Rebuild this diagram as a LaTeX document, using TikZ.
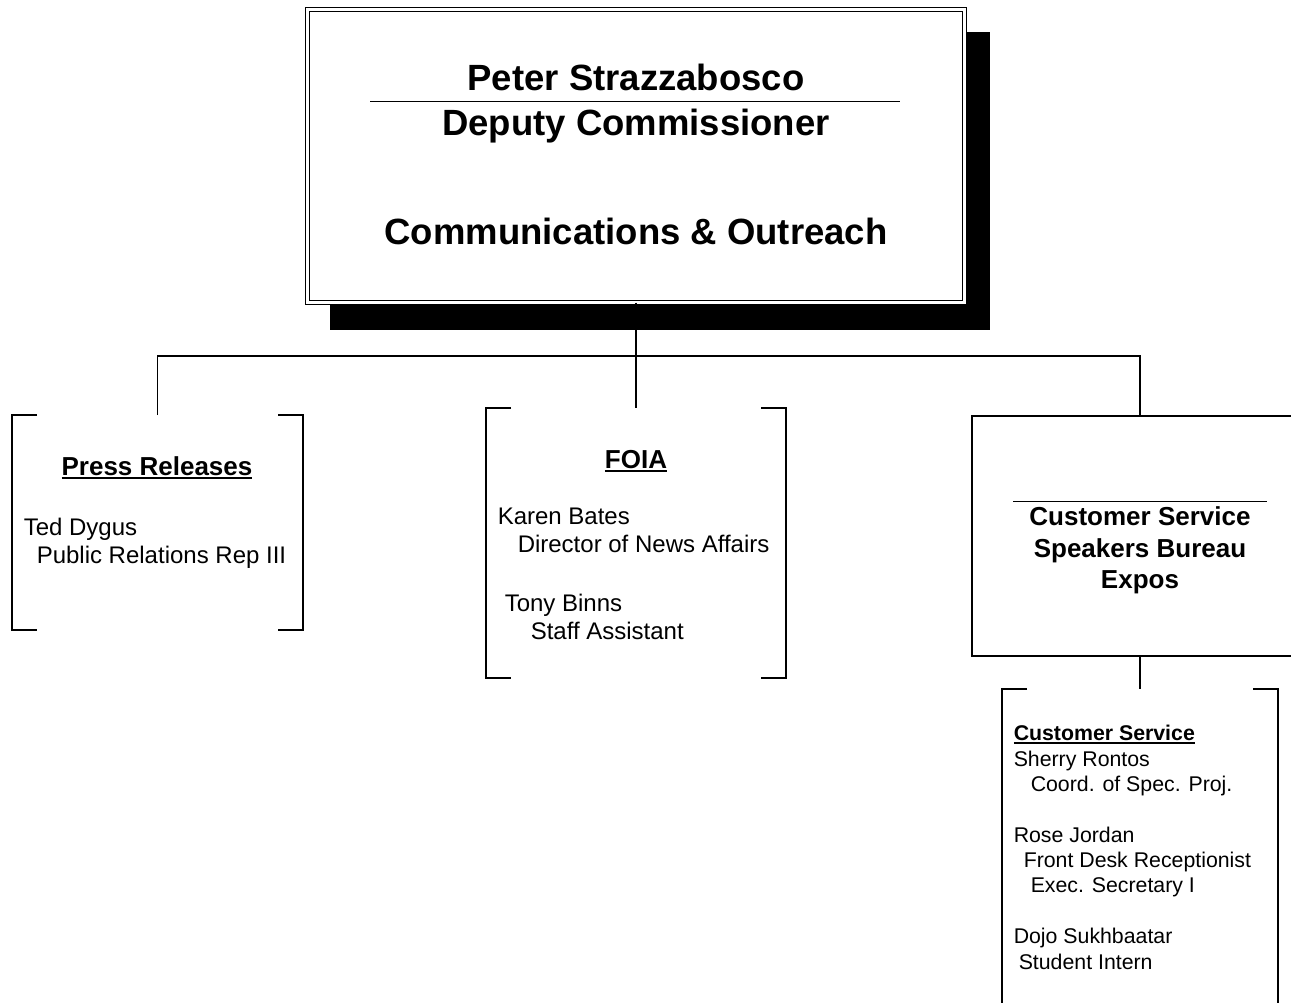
\documentclass[tikz,border=0pt]{standalone}
\usepackage{fontspec}
\setmainfont{Liberation Sans}
\usetikzlibrary{positioning}

\newcommand{\ulbox}[2]{\begingroup\setbox0\hbox{#2}\leavevmode\rlap{\rule[-3.5pt]{\wd0}{#1}}\box0\endgroup}

\tikzset{
 headbox/.style={draw, double, double distance=2.5pt, line width=1.2pt, fill=white, minimum width=657pt, minimum height=293pt, inner sep=0pt, outer sep=0pt},
 shadebox/.style={fill=black, minimum width=660pt, minimum height=298pt, inner sep=0pt, outer sep=0pt},
 unitbox/.style={draw, line width=1.6pt, inner sep=0pt, outer sep=0pt},
 bracketbox/.style={inner sep=0pt, outer sep=0pt},
 headtext/.style={anchor=base, inner sep=0pt, font=\fontsize{36.5}{40}\selectfont\bfseries},
 titletext/.style={anchor=base, inner sep=0pt, font=\fontsize{26}{30}\selectfont\bfseries},
 bodytext/.style={anchor=base west, inner sep=0pt, font=\fontsize{24}{28}\selectfont},
 smalltext/.style={anchor=base west, inner sep=0pt, font=\fontsize{21.3}{25}\selectfont},
}

\begin{document}
\begin{tikzpicture}[x=1pt,y=-1pt,line width=1.5pt]
 \useasboundingbox (0,0) rectangle (1291,1003);
 \clip (0,0) rectangle (1291,1003);

 % head box
 \node[shadebox] (shade) at (660,181) {};
 \node[headbox] (head) at (636,156) {};
 \node[headtext] (name) at (636,91) {Peter Strazzabosco};
 \node[headtext] (post) at (636,136) {Deputy Commissioner};
 \node[headtext] (unit) at (636,245) {Communications \& Outreach};
 \coordinate (r0) at (370,102);
 \coordinate (r1) at (900,102);
 \draw[line width=1pt] (r0) -- (r1);

 % units
 \node[bracketbox, minimum width=291pt, minimum height=215pt] (pr) at (157.5,522.5) {};
 \node[bracketbox, minimum width=300pt, minimum height=270pt] (foia) at (636,543) {};
 \node[unitbox, minimum width=336pt, minimum height=240pt] (cs) at (1140,536) {};
 \node[bracketbox, minimum width=276pt, minimum height=340pt] (desk) at (1140,859) {};

 % brackets
 \foreach \b in {pr,foia,desk} {
  \draw (\b.north west) ++(25,0) -| (\b.south west) -- ++(25,0);
  \draw (\b.north east) ++(-25,0) -| (\b.south east) -- ++(-25,0);
 }

 % connectors
 \coordinate (bus) at (636,356);
 \draw (head.south) -- (foia.north);
 \draw (pr.north) |- (bus) -| (cs.north);
 \draw (cs.south) -- (desk.north);

 % press releases
 \node[titletext] (prtitle) at (157,475) {\ulbox{1.8pt}{Press Releases}};
 \node[bodytext] (prname) at (23,535) {Ted Dygus};
 \node[bodytext] (prpost) at (36,563) {Public Relations Rep III};

 % foia
 \node[titletext] (foiatitle) at (636,468) {\ulbox{1.8pt}{FOIA}};
 \node[bodytext] (foianame0) at (497,524) {Karen Bates};
 \node[bodytext] (foiapost0) at (517,552) {Director of News Affairs};
 \node[bodytext] (foianame1) at (504,611) {Tony Binns};
 \node[bodytext] (foiapost1) at (530,639) {Staff Assistant};

 % customer service
 \coordinate (o0) at (1013,501);
 \coordinate (o1) at (1267,501);
 \draw[line width=1pt] (o0) -- (o1);
 \node[titletext] (cs0) at (1140,525) {Customer Service};
 \node[titletext] (cs1) at (1140,557) {Speakers Bureau};
 \node[titletext] (cs2) at (1140,588) {Expos};

 % desk
 \node[smalltext] (desktitle) at (1013,740) {\bfseries\ulbox{1.5pt}{Customer Service}};
 \node[smalltext] (deskname0) at (1013,766) {Sherry Rontos};
 \node[smalltext] (deskpost0) at (1030,791) {Coord. of Spec. Proj.};
 \node[smalltext] (deskname1) at (1013,842) {Rose Jordan};
 \node[smalltext] (deskpost1) at (1023,867) {Front Desk Receptionist};
 \node[smalltext] (deskpost2) at (1030,892) {Exec. Secretary I};
 \node[smalltext] (deskname2) at (1013,943) {Dojo Sukhbaatar};
 \node[smalltext] (deskpost3) at (1018,969) {Student Intern};
\end{tikzpicture}
\end{document}
